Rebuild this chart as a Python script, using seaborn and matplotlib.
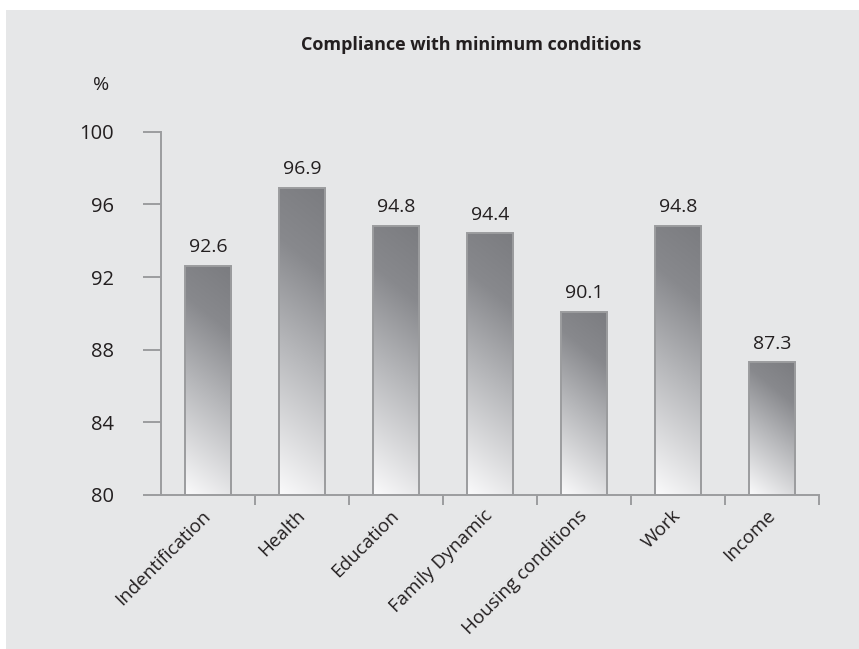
import numpy as np
import pandas as pd
import matplotlib
matplotlib.use("Agg")
import matplotlib.pyplot as plt
from matplotlib.colors import LinearSegmentedColormap
from matplotlib.patches import Rectangle
import seaborn as sns

categories = ["Indentification", "Health", "Education", "Family Dynamic",
              "Housing conditions", "Work", "Income"]
values = [92.6, 96.9, 94.8, 94.4, 90.1, 94.8, 87.3]
yticks = [80, 84, 88, 92, 96, 100]
title = "Compliance with minimum conditions"
unit_label = "%"

sns.set_style("white")
plt.rcParams["font.family"] = ["Open Sans", "DejaVu Sans"]

BG = "#e6e7e8"
AX = "#9b9c9e"
TXT = "#231f20"

fig = plt.figure(figsize=(8.59, 6.49), dpi=100, facecolor="white")
bg = Rectangle((6 / 859, 0), 1 - 6 / 859, 1 - 10 / 649,
               transform=fig.transFigure, facecolor=BG,
               edgecolor="none", zorder=-10)
fig.patches.append(bg)
ax = fig.add_axes([161 / 859, 1 - 495 / 649, 658 / 859, 363.3 / 649])
ax.set_facecolor("none")
ax.set_zorder(1)

df = pd.DataFrame({"cat": categories, "val": values})
sns.barplot(data=df, x="cat", y="val", width=0.49, color="#a0a0a0",
            edgecolor=AX, linewidth=1.4, ax=ax, zorder=3)

ax.set_ylim(80, 100)
ax.set_xlim(-0.5, len(categories) - 0.5)

cmap = LinearSegmentedColormap.from_list(
    "g", [(0.0, "#fafafb"), (0.45, "#b6b7ba"), (0.75, "#88898d"), (1.0, "#7b7c80")])

px_x = 658 / 7.0
px_y = 363.3 / 20.0
for p in ax.patches:
    x0, w = p.get_x(), p.get_width()
    y0, h = p.get_y(), p.get_height()
    y_lo = max(y0, 80)
    y_hi = y0 + h
    W = w * px_x
    H = (y_hi - y_lo) * px_y
    xs = np.linspace(0, W, 60)
    ys = np.linspace(0, H, 300)
    X, Y = np.meshgrid(xs, ys)
    k = 0.8
    t = (Y + k * X) / (H + k * W)
    im = ax.imshow(t, cmap=cmap, vmin=0, vmax=1, origin="lower",
                   extent=[x0, x0 + w, y_lo, y_hi], aspect="auto",
                   zorder=2, interpolation="bilinear")
    im.set_clip_path(p)
    p.set_facecolor("none")
    ax.annotate(f"{y_hi:.1f}", (x0 + w / 2, y_hi), xytext=(0, 7),
                textcoords="offset points", ha="center", va="bottom",
                fontsize=14, color=TXT)

ax.set_xlim(-0.5, len(categories) - 0.5)
ax.set_ylim(80, 100)

for s in ["top", "right"]:
    ax.spines[s].set_visible(False)
for s in ["left", "bottom"]:
    ax.spines[s].set_color(AX)
    ax.spines[s].set_linewidth(1.4)
ax.spines["bottom"].set_zorder(4)

ax.set_yticks(yticks)
ax.set_yticklabels([str(v) for v in yticks])
ax.tick_params(axis="y", left=True, length=13, width=1.4, color=AX, pad=21,
               labelsize=14.5, labelcolor=TXT)

ax.set_xticks(range(len(categories)))
ax.set_xticklabels(categories, rotation=45, ha="right", va="center",
                   rotation_mode="anchor")
ax.tick_params(axis="x", which="major", bottom=True, length=0, pad=13,
               labelsize=13.5, labelcolor=TXT)
ax.set_xticks(np.arange(0.5, len(categories), 1.0), minor=True)
ax.tick_params(axis="x", which="minor", bottom=True, length=7, width=1.4,
               color=AX)

ax.set_xlabel("")
ax.set_ylabel("")
ax.grid(False)

fig.text(471 / 859, 1 - 45 / 649, title, ha="center", va="center",
         fontsize=13, fontweight="bold", color=TXT)
fig.text(101 / 859, 1 - 85 / 649, unit_label, ha="center", va="center",
         fontsize=14, color=TXT)

fig.savefig("out.png", dpi=100, facecolor="white")
